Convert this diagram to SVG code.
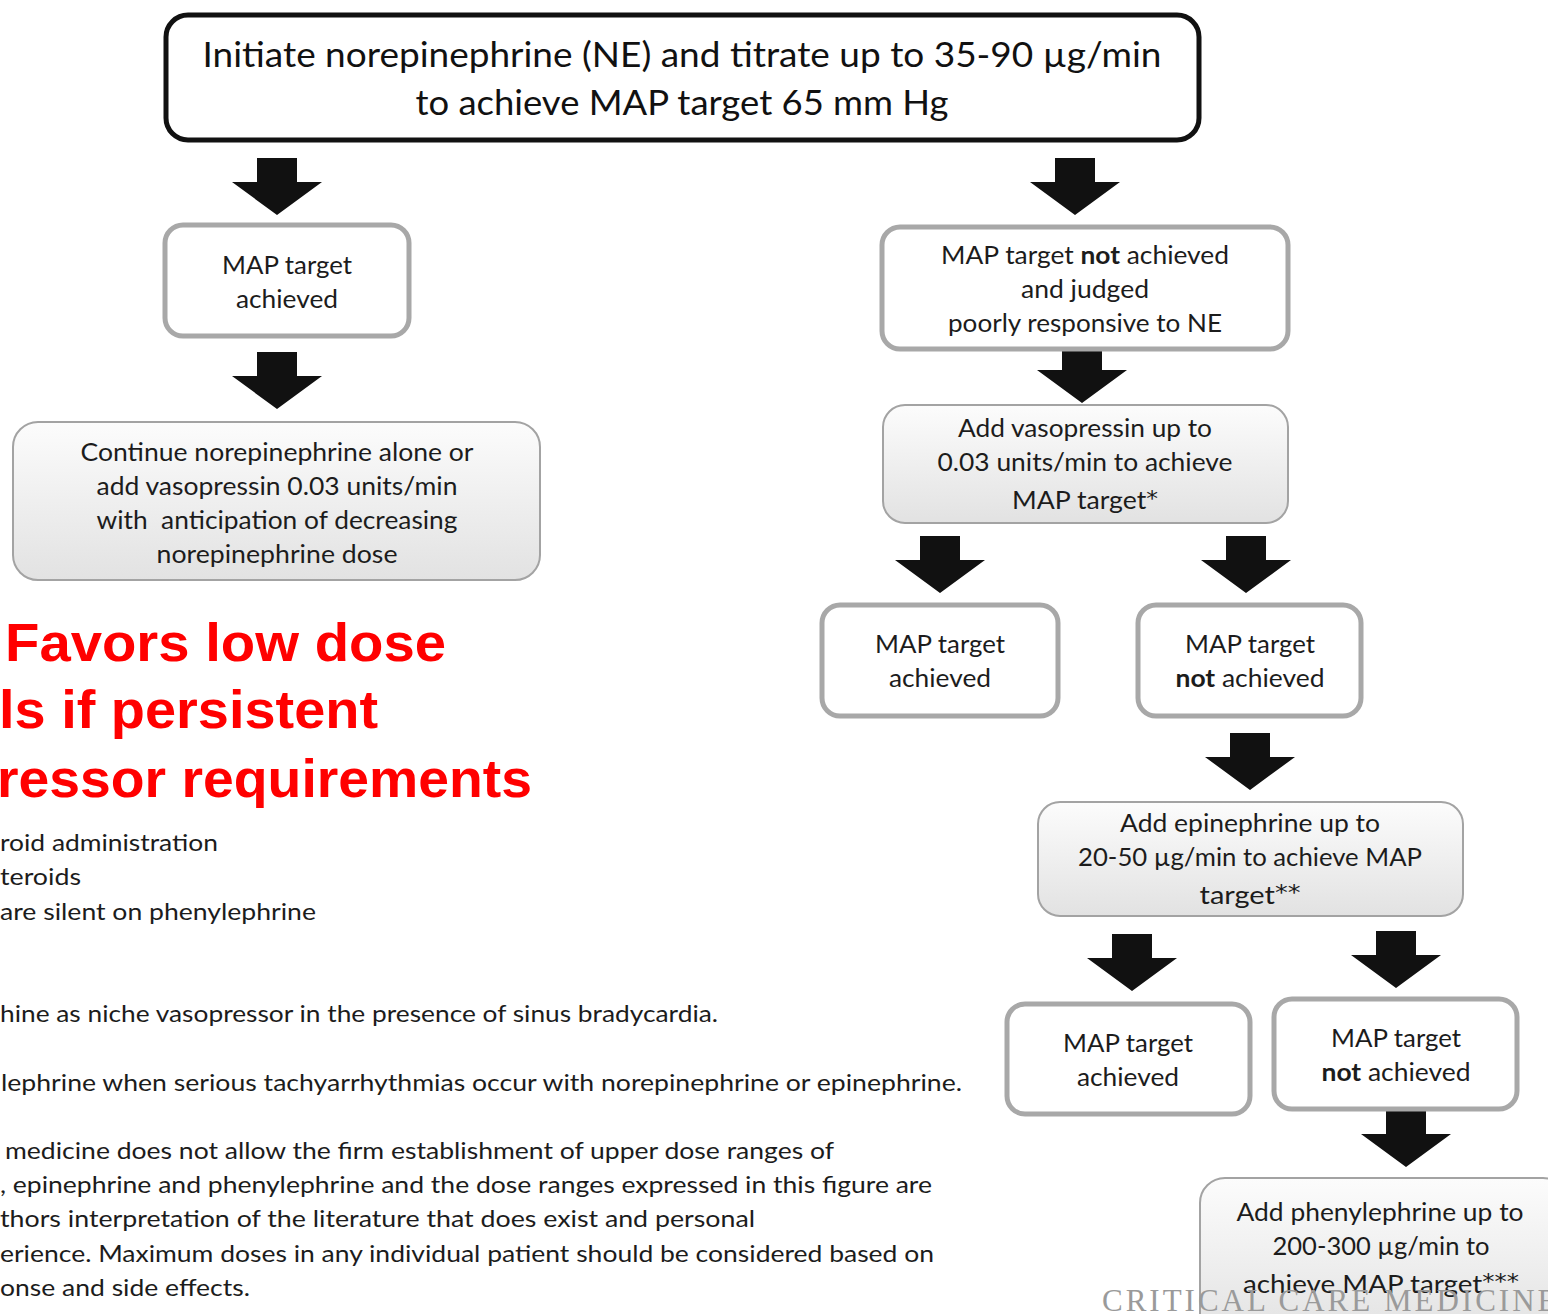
<svg xmlns="http://www.w3.org/2000/svg" width="1548" height="1314" viewBox="0 0 1548 1314">
<style>
.t{font-family:Lato,"Open Sans","DejaVu Sans",sans-serif;fill:#1c1c1c;text-anchor:middle;font-size:25px}
.top{font-size:35px;fill:#111}
.b{font-weight:bold}
.ast{font-family:"DejaVu Sans",sans-serif;font-size:22px}
.wb{fill:#fff;stroke:#a8a8a8;stroke-width:5}
.gb{fill:url(#g);stroke:#a3a3a3;stroke-width:2}
.red{font-family:"Liberation Sans",Arial,sans-serif;font-weight:bold;font-size:54px;fill:#ff0000}
.note{font-family:Lato,"Open Sans","DejaVu Sans",sans-serif;font-size:24px;fill:#1c1c1c}
.wm{font-family:"Liberation Serif","Times New Roman",serif;font-size:31px;fill:#9a9a9a;letter-spacing:3px}
</style>
<defs>
<linearGradient id="g" x1="0" y1="0" x2="0" y2="1">
<stop offset="0" stop-color="#fcfcfc"/>
<stop offset="1" stop-color="#e2e2e2"/>
</linearGradient>
<path id="arr" d="M-20,0 H20 V24 H45 L0,57 L-45,24 H-20 Z" fill="#111"/>
</defs>
<rect width="1548" height="1314" fill="#fff"/>

<g id="connectors">
<use href="#arr" x="277" y="158"/>
<use href="#arr" x="1075" y="158"/>
<use href="#arr" x="277" y="352"/>
<use href="#arr" x="1082" y="346"/>
<use href="#arr" x="940" y="536"/>
<use href="#arr" x="1246" y="536"/>
<use href="#arr" x="1250" y="733"/>
<use href="#arr" x="1132" y="934"/>
<use href="#arr" x="1396" y="931"/>
<use href="#arr" x="1406" y="1110"/>
</g>

<g id="n_start">
<rect x="166" y="15" width="1033" height="125" rx="22" fill="#fff" stroke="#111" stroke-width="5"/>
<text class="t top" x="682" y="67" textLength="959" lengthAdjust="spacingAndGlyphs">Initiate norepinephrine (NE) and titrate up to 35-90 µg/min</text>
<text class="t top" x="682" y="115" textLength="533" lengthAdjust="spacingAndGlyphs">to achieve MAP target 65 mm Hg</text>
</g>

<g id="n_achieved1">
<rect class="wb" x="165" y="225" width="244" height="111" rx="18"/>
<text class="t" x="287" y="274" textLength="130" lengthAdjust="spacingAndGlyphs">MAP target</text>
<text class="t" x="287" y="308" textLength="102" lengthAdjust="spacingAndGlyphs">achieved</text>
</g>

<g id="n_continue">
<rect class="gb" x="13" y="422" width="527" height="158" rx="25"/>
<text class="t" x="277" y="461" textLength="393" lengthAdjust="spacingAndGlyphs">Continue norepinephrine alone or</text>
<text class="t" x="277" y="495" textLength="361" lengthAdjust="spacingAndGlyphs">add vasopressin 0.03 units/min</text>
<text class="t" x="277" y="529" textLength="361" lengthAdjust="spacingAndGlyphs" xml:space="preserve">with  anticipation of decreasing</text>
<text class="t" x="277" y="563" textLength="241" lengthAdjust="spacingAndGlyphs">norepinephrine dose</text>
</g>

<g id="n_red">
<text class="red" x="5" y="661" textLength="441" lengthAdjust="spacingAndGlyphs">Favors low dose</text>
<text class="red" x="-1" y="728" textLength="379" lengthAdjust="spacingAndGlyphs">ls if persistent</text>
<text class="red" x="-3" y="797" textLength="535" lengthAdjust="spacingAndGlyphs">ressor requirements</text>
</g>

<g id="n_notes">
<text class="note" x="0" y="851" textLength="218" lengthAdjust="spacingAndGlyphs">roid administration</text>
<text class="note" x="0" y="885" textLength="81" lengthAdjust="spacingAndGlyphs">teroids</text>
<text class="note" x="0" y="920" textLength="316" lengthAdjust="spacingAndGlyphs">are silent on phenylephrine</text>
<text class="note" x="0" y="1022" textLength="718" lengthAdjust="spacingAndGlyphs">hine as niche vasopressor in the presence of sinus bradycardia.</text>
<text class="note" x="1" y="1091" textLength="961" lengthAdjust="spacingAndGlyphs">lephrine when serious tachyarrhythmias occur with norepinephrine or epinephrine.</text>
<text class="note" x="5" y="1159" textLength="829" lengthAdjust="spacingAndGlyphs">medicine does not allow the firm establishment of upper dose ranges of</text>
<text class="note" x="0" y="1193" textLength="932" lengthAdjust="spacingAndGlyphs">, epinephrine and phenylephrine and the dose ranges expressed in this figure are</text>
<text class="note" x="0" y="1227" textLength="755" lengthAdjust="spacingAndGlyphs">thors interpretation of the literature that does exist and personal</text>
<text class="note" x="0" y="1262" textLength="934" lengthAdjust="spacingAndGlyphs">erience. Maximum doses in any individual patient should be considered based on</text>
<text class="note" x="0" y="1296" textLength="250" lengthAdjust="spacingAndGlyphs">onse and side effects.</text>
</g>

<g id="n_notachieved_ne">
<rect class="wb" x="882" y="227" width="406" height="122" rx="18"/>
<text class="t" x="1085" y="264" textLength="288" lengthAdjust="spacingAndGlyphs">MAP target <tspan class="b">not</tspan> achieved</text>
<text class="t" x="1085" y="298" textLength="128" lengthAdjust="spacingAndGlyphs">and judged</text>
<text class="t" x="1085" y="332" textLength="274" lengthAdjust="spacingAndGlyphs">poorly responsive to NE</text>
</g>

<g id="n_vasopressin">
<rect class="gb" x="883" y="405" width="405" height="118" rx="22"/>
<text class="t" x="1085" y="437" textLength="254" lengthAdjust="spacingAndGlyphs">Add vasopressin up to</text>
<text class="t" x="1085" y="471" textLength="295" lengthAdjust="spacingAndGlyphs">0.03 units/min to achieve</text>
<text class="t" x="1085" y="509" textLength="146" lengthAdjust="spacingAndGlyphs">MAP target<tspan class="ast" dy="-3">*</tspan></text>
</g>

<g id="n_achieved2">
<rect class="wb" x="822" y="605" width="236" height="111" rx="18"/>
<text class="t" x="940" y="653" textLength="130" lengthAdjust="spacingAndGlyphs">MAP target</text>
<text class="t" x="940" y="687" textLength="102" lengthAdjust="spacingAndGlyphs">achieved</text>
</g>

<g id="n_notachieved2">
<rect class="wb" x="1138" y="605" width="223" height="111" rx="18"/>
<text class="t" x="1250" y="653" textLength="130" lengthAdjust="spacingAndGlyphs">MAP target</text>
<text class="t" x="1250" y="687" textLength="149" lengthAdjust="spacingAndGlyphs"><tspan class="b">not</tspan> achieved</text>
</g>

<g id="n_epinephrine">
<rect class="gb" x="1038" y="802" width="425" height="114" rx="22"/>
<text class="t" x="1250" y="832" textLength="260" lengthAdjust="spacingAndGlyphs">Add epinephrine up to</text>
<text class="t" x="1250" y="866" textLength="344" lengthAdjust="spacingAndGlyphs">20-50 µg/min to achieve MAP</text>
<text class="t" x="1250" y="904" textLength="101" lengthAdjust="spacingAndGlyphs">target<tspan class="ast" dy="-4">**</tspan></text>
</g>

<g id="n_achieved3">
<rect class="wb" x="1007" y="1004" width="243" height="110" rx="18"/>
<text class="t" x="1128" y="1052" textLength="130" lengthAdjust="spacingAndGlyphs">MAP target</text>
<text class="t" x="1128" y="1086" textLength="102" lengthAdjust="spacingAndGlyphs">achieved</text>
</g>

<g id="n_notachieved3">
<rect class="wb" x="1274" y="999" width="243" height="110" rx="18"/>
<text class="t" x="1396" y="1047" textLength="130" lengthAdjust="spacingAndGlyphs">MAP target</text>
<text class="t" x="1396" y="1081" textLength="149" lengthAdjust="spacingAndGlyphs"><tspan class="b">not</tspan> achieved</text>
</g>

<g id="n_phenylephrine">
<rect class="gb" x="1200" y="1178" width="368" height="160" rx="25"/>
<text class="t" x="1380" y="1221" textLength="287" lengthAdjust="spacingAndGlyphs">Add phenylephrine up to</text>
<text class="t" x="1381" y="1255" textLength="217" lengthAdjust="spacingAndGlyphs">200-300 µg/min to</text>
<text class="t" x="1381" y="1293" textLength="276" lengthAdjust="spacingAndGlyphs">achieve MAP target<tspan class="ast" dy="-4">***</tspan></text>
</g>

<g id="watermark">
<text class="wm" x="1102" y="1311">CRITICAL CARE MEDICINE</text>
</g>
</svg>
